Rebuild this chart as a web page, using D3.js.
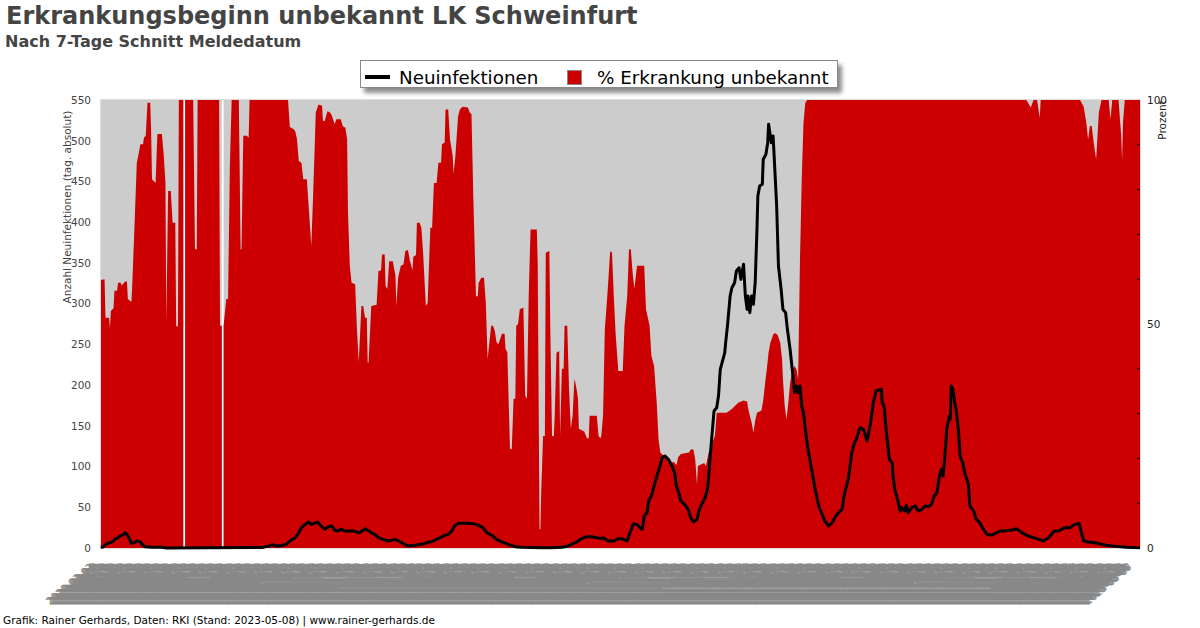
<!DOCTYPE html>
<html>
<head>
<meta charset="utf-8">
<script src="https://cdn.jsdelivr.net/npm/d3@7"></script>
<style>
  body { margin: 0; background: #fff; }
  svg { display: block; font-family: "DejaVu Sans", sans-serif; }
</style>
</head>
<body>
<svg id="chart" width="1200" height="628"></svg>
<script>
// ---------------- DATA ----------------
const titleText = "Erkrankungsbeginn unbekannt LK Schweinfurt";
const subtitleText = "Nach 7-Tage Schnitt Meldedatum";
const footerText = "Grafik: Rainer Gerhards, Daten: RKI (Stand: 2023-05-08) | www.rainer-gerhards.de";
const seriesNames = ["Neuinfektionen", "% Erkrankung unbekannt"];
const firstDate = "2020-03-02";
const lastDate = "2023-05-07";
const leftTicks = [0, 50, 100, 150, 200, 250, 300, 350, 400, 450, 500, 550];
const rightTickLabels = [0, 50, 100];
const rightMinorTicks = [10, 20, 30, 40, 60, 70, 80, 90];

// % Erkrankung unbekannt: [day index since firstDate, percent] (null = no data)
const pctUnknown = [[0,59.8],[4,60],[5,51.4],[9,51.4],[10,49],[11,52.9],[14,53.5],[15,57.4],[18,57.4],[19,59.2],[22,59.2],[23,58.6],[27,59.5],[29,59.5],[30,55.6],[34,54.9],[35,59.1],[37,69.6],[40,86],[42,87.9],[44,90.1],[47,90.1],[48,91.6],[50,92],[52,99.4],[55,99.4],[56,93],[57,82.3],[61,81.5],[63,92.4],[68,92.4],[70,88],[72,81.5],[73,50.3],[75,79.7],[78,79.7],[80,72.6],[83,72.6],[84,49.5],[86,49.5],[87,100],[92,100],[93,null],[94,100],[103,100],[105,66.7],[107,66.7],[108,100],[132,100],[133,49.6],[135,49.6],[136,null],[137,49.6],[140,55.6],[142,55.6],[144,85.3],[146,100],[154,100],[156,66.7],[157,66.7],[159,92],[163,92],[165,91.6],[166,100],[209,100],[211,94],[215,93.5],[217,93],[219,91.3],[221,86.4],[224,86],[226,82.3],[230,82.3],[232,76.4],[235,67.4],[237,78.6],[240,97.2],[243,99],[247,98.7],[248,95.3],[250,95.3],[253,97.5],[256,97.2],[258,96.5],[261,94.6],[263,95.7],[268,95.7],[270,94.2],[273,93.8],[275,91.3],[276,74.8],[278,63],[280,59.2],[284,58.9],[286,48.9],[288,41.5],[291,54],[293,54],[295,51.4],[297,51.4],[298,41.4],[299,41.4],[302,54],[308,54.3],[310,61.8],[313,62],[314,65.5],[317,65.5],[318,58.5],[320,57.8],[322,64],[326,64],[329,60.8],[330,54],[332,60.3],[335,63],[338,63.3],[340,66.3],[343,66.5],[345,64.3],[348,62],[349,65],[352,65.4],[353,72.6],[356,72.6],[358,71.5],[360,65.6],[363,54],[365,54.7],[368,71.5],[370,71.5],[372,81.5],[375,81.5],[377,86],[380,86],[381,90.1],[384,90.5],[385,97.9],[388,97.9],[390,91.2],[393,87.5],[394,83.5],[396,87.5],[399,96.4],[401,97.9],[404,98.5],[410,98.3],[412,97.2],[414,96.8],[416,78.6],[419,56.2],[421,56.2],[422,59.2],[425,60.3],[428,60.3],[430,54.7],[432,42.2],[434,45.9],[436,49.6],[438,49.6],[440,48.5],[442,45.9],[444,45.5],[446,46.6],[448,47.8],[451,47.8],[452,44.5],[454,43.7],[456,29.5],[457,22.1],[459,22.1],[461,33.3],[463,33.3],[464,49.6],[466,50],[468,53.3],[472,53.7],[474,34],[476,33.3],[477,45.5],[478,57],[480,71.1],[487,71.1],[488,63.7],[490,4.2],[491,4.2],[492,13.2],[494,25],[496,25],[497,65.9],[501,66.3],[502,49.6],[504,25],[506,25],[507,29.5],[509,43.6],[512,44],[513,25],[515,40],[517,40],[518,49.6],[521,49.6],[523,35.5],[525,26.6],[527,29.5],[529,37.7],[530,37],[532,34.8],[533,33.3],[534,26.6],[540,26],[543,24.5],[545,24.5],[546,29.5],[554,29.5],[556,25],[558,24.5],[559,25],[561,29.5],[563,48.9],[566,57],[569,66.3],[571,65.9],[573,56.2],[575,48],[578,39.5],[583,39.5],[585,49.6],[588,56.2],[590,66.7],[592,66.7],[594,61.5],[596,57.8],[599,63],[607,63],[609,53.3],[613,49.6],[615,42.9],[618,40.6],[621,32.4],[623,24.3],[625,21.3],[632,20],[634,19],[640,19.2],[643,18.5],[645,20.3],[648,21],[657,21.3],[659,22],[662,22],[664,19.7],[666,14.2],[667,18.3],[674,19],[676,18.3],[679,21.3],[682,23],[686,25],[688,30.2],[699,30.2],[705,31],[712,32.4],[718,32.9],[722,32.7],[723,31.3],[725,29.5],[727,28],[729,25.7],[731,28.4],[733,30.2],[738,30.7],[740,32.9],[742,36.6],[744,39.9],[746,43.7],[748,45.8],[751,47.6],[753,48],[756,47.6],[759,45.8],[761,42.2],[762,37.7],[764,31.7],[766,28.7],[768,32.4],[770,36.8],[772,39.1],[775,40.6],[777,39.9],[779,37.7],[781,63.7],[783,82.3],[785,94.9],[787,99.4],[789,100],[1034,100],[1039,98.3],[1042,100],[1046,100],[1049,96],[1050,100],[1094,100],[1098,98.5],[1101,95],[1103,91.2],[1105,94.2],[1107,94.2],[1109,91],[1111,88],[1112,86.8],[1114,93.5],[1115,97.2],[1118,100],[1126,100],[1128,95.7],[1130,100],[1137,100],[1140,92],[1141,86.4],[1142,95],[1144,100],[1161,100]];

// Neuinfektionen (7-day mean): [day index since firstDate, cases]
const newCases = [[0,0],[3,2],[6,5],[10,6.5],[14,8.5],[16,11.5],[19,12.5],[21,14.7],[25,16.5],[27,18.8],[29,16.8],[30,14.7],[32,10.6],[34,5.7],[37,6.5],[40,8.6],[44,7.5],[46,4.5],[49,1.6],[58,1],[68,1],[73,0],[120,0.3],[180,0.5],[183,1.5],[187,2],[191,4],[196,2.5],[202,3],[207,4.5],[211,8.6],[217,12.7],[220,16.8],[224,25],[228,29],[232,31.9],[235,29],[239,30.5],[242,31.9],[246,27],[250,23],[254,26],[258,27],[261,22],[264,20.9],[269,23],[272,20.9],[282,20.9],[289,18.8],[295,23.7],[299,20.9],[302,18.8],[306,16.8],[310,12.7],[315,10.6],[321,8.6],[329,10.6],[336,6.5],[343,2.5],[351,3.3],[358,4.5],[364,6.5],[371,8.6],[379,12.7],[384,15.5],[388,16.8],[392,20.9],[395,27],[399,30.3],[405,30.3],[410,30.3],[416,29.9],[422,27.8],[427,25],[431,18.8],[437,15.5],[442,10.6],[448,7.4],[455,4.5],[463,1.6],[470,0.8],[492,0.4],[504,0.4],[515,0.8],[522,2.5],[530,6.5],[537,11.5],[543,13.9],[548,13.9],[554,12.7],[559,11.5],[561,12.7],[567,8.6],[573,8.6],[578,11.5],[582,11.5],[588,8.6],[591,18.8],[595,29.8],[599,29],[602,25],[605,23],[607,39.3],[610,43.3],[612,57.7],[615,63.8],[617,72],[620,84.3],[623,94.5],[627,110.9],[630,113],[634,108.9],[638,100.7],[641,92.5],[643,76.1],[645,69.9],[648,57.7],[653,52.4],[656,47.4],[659,37.2],[662,31.9],[666,35.2],[668,45.4],[672,55.6],[675,61.7],[678,74],[680,100.7],[682,129.3],[685,168.2],[688,172.2],[690,186.5],[692,219.4],[694,227.6],[697,239.8],[698,252],[700,272.5],[703,309.4],[705,319.6],[708,325.7],[710,340],[713,344.1],[715,329.8],[718,348.3],[720,309.4],[722,293],[723,309.4],[725,288.9],[727,309.4],[729,299.2],[731,325.7],[733,391.3],[734,432.2],[736,444.4],[739,446.5],[740,477.2],[743,483.3],[745,497.6],[746,520.2],[749,497.6],[751,505.8],[752,485.4],[755,419.9],[757,346.2],[760,317.5],[762,293],[765,289],[767,268.5],[770,244],[772,223.4],[774,203],[775,190.7],[777,198.9],[779,190.7],[781,198.9],[783,174.3],[785,166.1],[787,145.7],[790,121.2],[794,96.6],[798,72],[802,51.6],[805,43.3],[809,33],[813,27],[817,31],[820,37.2],[824,43.3],[828,47.4],[831,67.9],[835,84.3],[839,117],[842,129.3],[844,133.4],[848,147.7],[852,145.7],[856,131.4],[860,154],[863,178.4],[866,192.7],[872,195],[873,178.4],[875,174.3],[878,137.5],[881,108.9],[884,104.8],[885,88.4],[887,72],[890,59.8],[893,45.4],[895,49.5],[898,45.4],[900,52.4],[902,43.3],[906,49.5],[910,51.6],[913,45.4],[917,47.4],[921,51.6],[925,50.8],[928,53.6],[931,63.8],[934,67.9],[937,88.4],[939,96.6],[941,88.4],[943,113],[945,145.7],[948,162],[949,158],[950,198.9],[952,194.8],[954,178.4],[955,174.3],[958,145.7],[960,113],[962,106.8],[963,104.8],[965,92.5],[969,80.2],[971,51.6],[975,45.4],[978,35.2],[982,31.1],[986,23],[990,16.8],[995,15.6],[1001,19],[1005,20.9],[1010,20.9],[1018,22],[1023,23.7],[1029,18.8],[1036,14.7],[1042,12.7],[1048,10.6],[1053,8.6],[1059,12.7],[1065,20.9],[1070,20.9],[1077,25],[1083,25],[1088,29],[1093,30],[1096,17],[1098,8.6],[1103,7.4],[1111,6.5],[1123,3.3],[1134,2],[1146,0.8],[1161,0.4]];

// ---------------- CHART ----------------
const svg = d3.select("#chart");
const plot = { left: 101, right: 1140, top: 100, bottom: 548 };
const RED = "#cc0000", GREY = "#cccccc";

const parse = d3.timeParse("%Y-%m-%d"), fmt = d3.timeFormat("%Y-%m-%d");
const dateLabels = d3.timeDay.range(parse(firstDate), d3.timeDay.offset(parse(lastDate), 1)).map(fmt);

const x = d3.scaleLinear().domain([0, dateLabels.length - 1]).range([plot.left, plot.right]);
const yL = d3.scaleLinear().domain([0, 550]).range([plot.bottom, plot.top]);
const yR = d3.scaleLinear().domain([0, 100]).range([plot.bottom, plot.top]);

// defs
const defs = svg.append("defs");
const f = defs.append("filter").attr("id", "shadow").attr("x", "-10%").attr("y", "-50%").attr("width", "130%").attr("height", "250%");
f.append("feGaussianBlur").attr("in", "SourceAlpha").attr("stdDeviation", 2);
f.append("feOffset").attr("dx", 4).attr("dy", 5).attr("result", "b");
f.append("feComponentTransfer").append("feFuncA").attr("type", "linear").attr("slope", 0.45);
const fm = f.append("feMerge"); fm.append("feMergeNode"); fm.append("feMergeNode").attr("in", "SourceGraphic");

// title
svg.append("text").attr("x", 6).attr("y", 23.5).attr("font-size", 24).attr("font-weight", "bold")
  .attr("fill", "#444").text(titleText);
svg.append("text").attr("x", 5).attr("y", 46.5).attr("font-size", 16).attr("font-weight", "bold")
  .attr("fill", "#444").text(subtitleText);

// plot: grey where data exists (full height), red where unknown
const defined = d => d[1] != null;
svg.append("path").datum(pctUnknown)
  .attr("d", d3.area().defined(defined).x(d => x(d[0])).y0(yR(0)).y1(yR(100)))
  .attr("fill", GREY);
svg.append("path").datum(pctUnknown)
  .attr("d", d3.area().defined(defined).x(d => x(d[0])).y0(yR(0)).y1(d => yR(d[1])))
  .attr("fill", RED);
svg.append("rect").attr("x", plot.left - 0.5).attr("y", plot.top - 0.5)
  .attr("width", plot.right - plot.left + 1).attr("height", plot.bottom - plot.top + 1)
  .attr("fill", "none").attr("stroke", "#dddddd").attr("stroke-width", 1);

// cases line
svg.append("path").datum(newCases)
  .attr("d", d3.line().x(d => x(d[0])).y(d => yL(d[1])))
  .attr("fill", "none").attr("stroke", "#000").attr("stroke-width", 3).attr("stroke-linejoin", "round");

// left axis labels
svg.append("g").selectAll("text").data(leftTicks).join("text")
  .attr("x", 91).attr("y", d => yL(d)).attr("dy", "0.36em").attr("text-anchor", "end")
  .attr("font-size", 10.5).attr("fill", "#444").text(d => d);
svg.append("text").attr("transform", `translate(71,207) rotate(-90)`).attr("text-anchor", "middle")
  .attr("font-size", 10.5).attr("fill", "#444").text("Anzahl Neuinfektionen (tag. absolut)");

// right axis
svg.append("g").selectAll("text").data(rightTickLabels).join("text")
  .attr("x", 1147).attr("y", d => yR(d)).attr("dy", "0.36em")
  .attr("font-size", 10.5).attr("fill", "#222").text(d => d);
svg.append("g").selectAll("line").data(rightMinorTicks).join("line")
  .attr("x1", plot.right - 3).attr("x2", plot.right).attr("y1", d => yR(d)).attr("y2", d => yR(d))
  .attr("stroke", "#000").attr("stroke-width", 1);
svg.append("text").attr("transform", `translate(1166,120) rotate(-90)`).attr("text-anchor", "middle")
  .attr("font-size", 10.5).attr("fill", "#222").text("Prozent");

// x labels (one per day, as in the original category axis)
svg.append("g").selectAll("text").data(dateLabels).join("text")
  .attr("transform", (d, i) => `translate(${x(i) - 7},568) rotate(-40)`)
  .attr("text-anchor", "end").attr("font-size", 10).attr("fill", "#888").text(d => d);

// legend
const lg = svg.append("g");
lg.append("rect").attr("x", 360.5).attr("y", 60.5).attr("width", 477).attr("height", 27)
  .attr("fill", "#fff").attr("stroke", "#888").attr("filter", "url(#shadow)");
lg.append("line").attr("x1", 365).attr("x2", 390).attr("y1", 77).attr("y2", 77)
  .attr("stroke", "#000").attr("stroke-width", 4);
lg.append("text").attr("x", 399).attr("y", 83.5).attr("font-size", 18.3).attr("fill", "#000").text(seriesNames[0]);
lg.append("rect").attr("x", 567.5).attr("y", 70.5).attr("width", 14).attr("height", 14)
  .attr("fill", RED).attr("stroke", "#888");
lg.append("text").attr("x", 597).attr("y", 83.5).attr("font-size", 18.3).attr("fill", "#000").text(seriesNames[1]);

// footer
svg.append("text").attr("x", 3).attr("y", 624).attr("font-size", 10.5).attr("fill", "#000").text(footerText);
</script>
</body>
</html>
